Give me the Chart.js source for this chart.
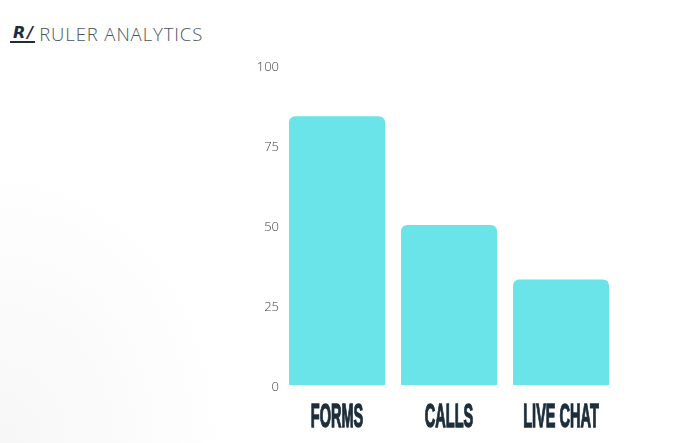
<!DOCTYPE html>
<html>
<head>
<meta charset="utf-8">
<script src="https://cdn.jsdelivr.net/npm/chart.js@4"></script>
<style>
    html, body { margin: 0; padding: 0; }
    body {
        width: 674px; height: 443px; overflow: hidden; position: relative;
        background: radial-gradient(ellipse 230px 280px at 0px 443px, #f7f7f7 0%, #fbfbfb 55%, #ffffff 100%);
        font-family: 'Open Sans', sans-serif;
    }
    .brand { position: absolute; left: 10px; top: 21px; display: flex; align-items: center; }
    .logo {
        font-family: 'DejaVu Sans', sans-serif; font-style: italic; font-weight: bold;
        font-size: 16px; color: #1d2c38; border-bottom: 2px solid #1d2c38;
        line-height: 15px; padding: 0 0 1px 3px; letter-spacing: 2px;
    }
    .name { margin-left: 4px; font-size: 18.5px; font-weight: 300; color: #4a5661; letter-spacing: 0.9px; }
    #wrap { position: absolute; left: 0; top: 0; width: 674px; height: 443px; }
</style>
</head>
<body>
<div class="brand"><span class="logo">R/</span><span class="name">RULER ANALYTICS</span></div>
<div id="wrap"><canvas id="chart"></canvas></div>
<script>
// 数据
const categories = ['FORMS', 'CALLS', 'LIVE CHAT'];
const values = [84, 50, 33];
const yTicks = [0, 25, 50, 75, 100];

// 自绘 x 轴标签（窄体粗字）
const condensedLabels = {
    id: 'condensedLabels',
    afterDraw(chart) {
        const ctx = chart.ctx;
        const xScale = chart.scales.x;
        ctx.save();
        ctx.fillStyle = '#1c2e3c';
        ctx.strokeStyle = '#1c2e3c';
        ctx.lineWidth = 1.4;
        ctx.font = "bold 33px 'Liberation Sans', Arial, sans-serif";
        ctx.textAlign = 'center';
        ctx.textBaseline = 'alphabetic';
        categories.forEach((label, i) => {
            const x = xScale.getPixelForTick(i);
            ctx.save();
            ctx.translate(x, 427);
            ctx.scale(0.44, 1);
            ctx.fillText(label, 0, 0);
            ctx.strokeText(label, 0, 0);
            ctx.restore();
        });
        ctx.restore();
    }
};

new Chart(document.getElementById('chart'), {
    type: 'bar',
    data: {
        labels: categories,
        datasets: [{
            data: values,
            backgroundColor: '#6ae4e8',
            borderRadius: { topLeft: 6, topRight: 6 },
            borderSkipped: 'bottom',
            categoryPercentage: 0.857,
            barPercentage: 1
        }]
    },
    options: {
        responsive: true,
        maintainAspectRatio: false,
        animation: false,
        layout: { padding: { left: 240, top: 65, right: 57, bottom: 0 } },
        plugins: { legend: { display: false }, tooltip: { enabled: false } },
        scales: {
            x: {
                grid: { display: false, drawTicks: false },
                border: { display: false },
                ticks: { display: false },
                afterFit(scale) { scale.height = 58; }
            },
            y: {
                min: 0,
                max: 100,
                afterBuildTicks(scale) { scale.ticks = yTicks.map(v => ({ value: v })); },
                grid: { display: false, drawTicks: false },
                border: { display: false },
                ticks: {
                    padding: 2,
                    labelOffset: 2,
                    color: '#3f4448',
                    font: { family: "'Open Sans'", size: 13, weight: 300 }
                },
                afterFit(scale) { scale.width = 41; }
            }
        }
    },
    plugins: [condensedLabels]
});
</script>
</body>
</html>
